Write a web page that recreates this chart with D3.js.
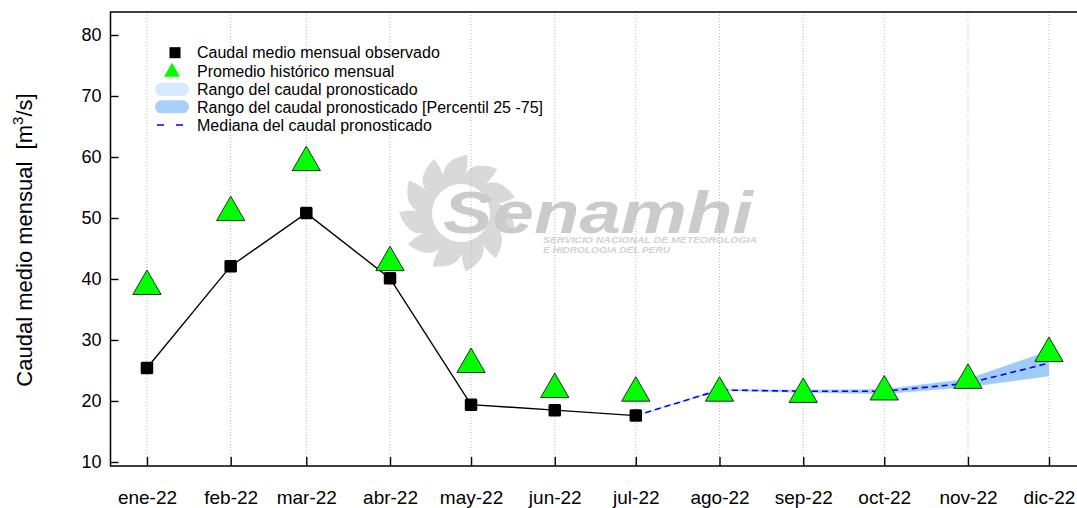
<!DOCTYPE html>
<html>
<head>
<meta charset="utf-8">
<script src="https://cdn.jsdelivr.net/npm/d3@7"></script>
<style>
  body { margin: 0; background: #fff; }
  svg { display: block; font-family: "Liberation Sans", Arial, sans-serif; }
</style>
</head>
<body>
<svg id="chart"></svg>
<script>
// month labels (jan..dec 2022)
const months = ["ene-22", "feb-22", "mar-22", "abr-22", "may-22", "jun-22",
                "jul-22", "ago-22", "sep-22", "oct-22", "nov-22", "dic-22"];
const yTicks = [10, 20, 30, 40, 50, 60, 70, 80];

// observed monthly mean flow (m3/s)
const observed = [25.4, 42.1, 50.8, 40.1, 19.4, 18.5, 17.6];
// historical monthly average
const historical = [38.8, 50.9, 59.1, 42.7, 26.0, 21.9, 21.3, 21.3, 21.1, 21.5, 23.4, 27.8];

// forecast, from jul-22 (index 6) to dic-22
const fcStart = 6;
const fcMedian = [17.6, 21.8, 21.6, 21.6, 22.9, 26.2];
const fcP25 = [17.6, 21.7, 21.4, 21.2, 22.3, 24.1];
const fcP75 = [17.6, 21.9, 21.8, 21.9, 23.6, 28.2];
const fcMin = [17.5, 21.6, 21.3, 21.1, 22.2, 24.0];
const fcMax = [17.7, 22.0, 21.9, 22.0, 23.7, 28.3];

const legendLabels = [
  "Caudal medio mensual observado",
  "Promedio histórico mensual",
  "Rango del caudal pronosticado",
  "Rango del caudal pronosticado [Percentil 25 -75]",
  "Mediana del caudal pronosticado"
];

const W = 1077, H = 508;
const pLeft = 110.5, pRight = 1076, pTop = 12, pBottom = 466;

const svg = d3.select("#chart").attr("width", W).attr("height", H);

const dates = months.map((m, i) => new Date(2022, i, 1));
const DAY = 864e5;
const x = d3.scaleTime()
  .domain([new Date(dates[0].getTime() - 13.5 * DAY), new Date(dates[11].getTime() + 10 * DAY)])
  .range([pLeft, pRight]);
const y = d3.scaleLinear().domain([9.34, 83.77]).range([pBottom, pTop]);

// ---- watermark (Senamhi logo, rough) ----
const wm = svg.append("g").attr("class", "watermark");
const cx = 458, cy = 213;
const petals = [];
for (let k = 0; k < 11; k++) petals.push(k * 2 * Math.PI / 11);
const pt = (a, r) => [cx + r * Math.cos(a), cy + r * Math.sin(a)];
wm.selectAll("path.petal").data(petals).join("path")
  .attr("class", "petal")
  .attr("fill", "#d9d9d9")
  .attr("d", a => {
    const p0 = pt(a - 0.3, 34), p1 = pt(a + 0.3, 34);
    const tip = pt(a + 0.3, 59);
    const c0 = pt(a - 0.2, 56), c1 = pt(a + 0.38, 45);
    return `M${p0}Q${c0} ${tip}Q${c1} ${p1}Z`;
  });
wm.append("circle").attr("cx", cx).attr("cy", cy).attr("r", 38).attr("fill", "#d9d9d9");
wm.append("circle").attr("cx", cx + 3).attr("cy", cy).attr("r", 29).attr("fill", "#fff");
wm.append("text")
  .attr("x", 443).attr("y", 233)
  .attr("font-size", 60).attr("font-weight", "bold").attr("font-style", "italic")
  .attr("fill", "#cbcbcb")
  .attr("textLength", 310).attr("lengthAdjust", "spacingAndGlyphs")
  .text("Senamhi");
wm.append("text")
  .attr("x", 543).attr("y", 243)
  .attr("font-size", 8.5).attr("font-weight", "bold").attr("font-style", "italic")
  .attr("fill", "#d2d2d2")
  .attr("textLength", 214).attr("lengthAdjust", "spacingAndGlyphs")
  .text("SERVICIO NACIONAL DE METEOROLOGIA");
wm.append("text")
  .attr("x", 543).attr("y", 253)
  .attr("font-size", 8.5).attr("font-weight", "bold").attr("font-style", "italic")
  .attr("fill", "#d2d2d2")
  .attr("textLength", 127).attr("lengthAdjust", "spacingAndGlyphs")
  .text("E HIDROLOGIA DEL PERU");

// ---- vertical dotted grid ----
svg.append("g").selectAll("line").data(dates).join("line")
  .attr("x1", d => x(d)).attr("x2", d => x(d))
  .attr("y1", pTop).attr("y2", pBottom)
  .attr("stroke", "#b8b8b8").attr("stroke-width", 1)
  .attr("stroke-dasharray", "1,2");

// ---- forecast bands ----
const fc = fcMedian.map((v, i) => ({
  date: dates[fcStart + i], med: v, p25: fcP25[i], p75: fcP75[i], min: fcMin[i], max: fcMax[i]
}));
svg.append("path").datum(fc)
  .attr("fill", "#d6eaff")
  .attr("d", d3.area().x(d => x(d.date)).y0(d => y(d.min)).y1(d => y(d.max)));
svg.append("path").datum(fc)
  .attr("fill", "#9fcbf7")
  .attr("d", d3.area().x(d => x(d.date)).y0(d => y(d.p25)).y1(d => y(d.p75)));

// ---- observed line ----
const obs = observed.map((v, i) => ({ date: dates[i], v }));
svg.append("path").datum(obs)
  .attr("fill", "none").attr("stroke", "#000").attr("stroke-width", 1.4)
  .attr("d", d3.line().x(d => x(d.date)).y(d => y(d.v)));

// ---- median forecast ----
svg.append("path").datum(fc)
  .attr("fill", "none").attr("stroke", "#0000ff").attr("stroke-width", 1.6)
  .attr("stroke-dasharray", "6,4")
  .attr("d", d3.line().x(d => x(d.date)).y(d => y(d.med)));

// ---- squares ----
svg.append("g").selectAll("rect").data(obs).join("rect")
  .attr("x", d => x(d.date) - 6.25).attr("y", d => y(d.v) - 6.25)
  .attr("width", 12.5).attr("height", 12.5).attr("rx", 1.5)
  .attr("fill", "#000");

// ---- triangles (centroid at value) ----
const tri = (s) => `M0,${-s * 2 / 3}L${s * 0.577},${s / 3}L${-s * 0.577},${s / 3}Z`;
svg.append("g").selectAll("path").data(historical).join("path")
  .attr("transform", (d, i) => `translate(${x(dates[i])},${y(d)})`)
  .attr("d", tri(24.5))
  .attr("fill", "#00ff00").attr("stroke", "#1a1a1a").attr("stroke-width", 0.9);

// ---- axes ----
const yAxis = svg.append("g")
  .attr("transform", `translate(${pLeft},0)`)
  .call(d3.axisLeft(y).tickValues(yTicks).tickSize(-8).tickPadding(9));
const xAxis = svg.append("g")
  .attr("transform", `translate(0,${pBottom})`)
  .call(d3.axisBottom(x).tickValues(dates).tickSize(-9).tickPadding(24.5)
    .tickFormat((d, i) => months[i]));
[yAxis, xAxis].forEach(g => {
  g.select(".domain").remove();
  g.selectAll(".tick line").attr("stroke", "#000").attr("stroke-width", 1.4);
  g.selectAll(".tick text").attr("fill", "#000")
    .attr("font-family", "Liberation Sans, Arial, sans-serif");
});
yAxis.selectAll(".tick text").attr("font-size", 18);
xAxis.selectAll(".tick text").attr("font-size", 19);

// frame (no right side)
svg.append("path")
  .attr("d", `M${pRight + 2},${pTop}H${pLeft}V${pBottom}H${pRight + 2}`)
  .attr("fill", "none").attr("stroke", "#000").attr("stroke-width", 1.5);

// ---- y title ----
const yt = svg.append("text")
  .attr("transform", `translate(32,${(pTop + pBottom) / 2 + 1}) rotate(-90)`)
  .attr("text-anchor", "middle")
  .attr("font-size", 22).attr("fill", "#000");
yt.append("tspan").text("Caudal medio mensual\u00a0\u00a0[m");
yt.append("tspan").attr("font-size", 15).attr("dy", -9).text("3");
yt.append("tspan").attr("dy", 9).text("/s]");

// ---- legend ----
const lg = svg.append("g").attr("font-size", 16);
const rowY = [52.7, 71, 89.3, 106.8, 125];
lg.selectAll("text").data(legendLabels).join("text")
  .attr("x", 197).attr("y", (d, i) => rowY[i]).attr("dy", "0.36em")
  .attr("fill", "#000").text(d => d);
lg.append("rect").attr("x", 169.5).attr("y", rowY[0] - 5.5).attr("width", 11).attr("height", 11).attr("fill", "#000");
lg.append("path").attr("transform", `translate(172,${rowY[1] + 1})`).attr("d", tri(14)).attr("fill", "#00ff00");
lg.append("rect").attr("x", 155).attr("y", rowY[2] - 6.5).attr("width", 34).attr("height", 13).attr("rx", 6.5).attr("fill", "#d6eaff");
lg.append("rect").attr("x", 155).attr("y", rowY[3] - 6.5).attr("width", 34).attr("height", 13).attr("rx", 6.5).attr("fill", "#a8d0fa");
lg.append("line").attr("x1", 157).attr("x2", 183).attr("y1", rowY[4]).attr("y2", rowY[4])
  .attr("stroke", "#0000ff").attr("stroke-width", 1.6).attr("stroke-dasharray", "7,12");
</script>
</body>
</html>
